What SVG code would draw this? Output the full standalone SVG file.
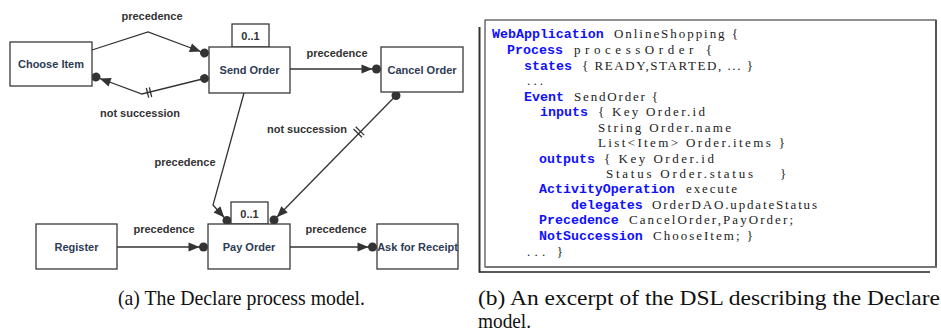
<svg xmlns="http://www.w3.org/2000/svg" width="941" height="336" viewBox="0 0 941 336">
  <style>
    .box { fill: #ffffff; stroke: #3a3a3a; stroke-width: 1.3; }
    .lbl { font-family: "Liberation Sans", Arial, sans-serif; font-weight: bold; font-size: 11px; fill: #2d3b55; text-anchor: middle; }
    .card { font-family: "Liberation Sans", Arial, sans-serif; font-weight: bold; font-size: 11px; fill: #333333; text-anchor: middle; }
    .elbl { font-family: "Liberation Sans", Arial, sans-serif; font-weight: bold; font-size: 11px; fill: #333333; text-anchor: middle; }
    .edge { fill: none; stroke: #333333; stroke-width: 1.3; }
    .bar { stroke: #333333; stroke-width: 1.3; }
    .kw { font-family: "Liberation Mono", "Courier New", monospace; font-weight: bold; font-size: 13.3px; fill: #1010ff; }
    .tx { font-family: "Liberation Serif", "Times New Roman", serif; font-size: 13px; fill: #222222; }
    .cap { font-family: "Liberation Serif", "Times New Roman", serif; font-size: 21px; fill: #111111; }
  </style>
  <defs>
    <!-- target end: arrowhead touching a dot -->
    <marker id="arrowDot" markerUnits="userSpaceOnUse" refX="0" refY="0" markerWidth="30" markerHeight="30" orient="auto" overflow="visible">
      <path d="M-15,-4.5 L-4,0 L-15,4.5 Z" fill="#333333"/>
      <circle cx="0" cy="0" r="4.5" fill="#333333"/>
    </marker>
    <!-- source-side dot -->
    <marker id="dot" markerUnits="userSpaceOnUse" refX="0" refY="0" markerWidth="12" markerHeight="12" orient="auto" overflow="visible">
      <circle cx="0" cy="0" r="4.5" fill="#333333"/>
    </marker>
  </defs>

  <!-- connectors -->
  <g id="connectors">
    <path class="edge" d="M92,50 L148,32 L204.5,53" marker-end="url(#arrowDot)"/>
    <text class="elbl" x="152" y="20">precedence</text>

    <path class="edge" d="M204.5,78.5 L142,94 L96,77" marker-start="url(#dot)" marker-end="url(#arrowDot)"/>
    <line class="bar" x1="146.3" y1="88" x2="148.7" y2="97.7"/>
    <line class="bar" x1="149.3" y1="87.3" x2="151.7" y2="97"/>
    <text class="elbl" x="140" y="117">not succession</text>

    <path class="edge" d="M290,69 L376.5,69" marker-end="url(#arrowDot)"/>
    <text class="elbl" x="337" y="57">precedence</text>

    <path class="edge" d="M396,95.5 L274,220" marker-start="url(#dot)" marker-end="url(#arrowDot)"/>
    <line class="bar" x1="353.5" y1="129" x2="362" y2="137.3"/>
    <line class="bar" x1="355.7" y1="126.8" x2="364.2" y2="135.1"/>
    <text class="elbl" x="307" y="133">not succession</text>

    <path class="edge" d="M244,93 L213,205 L227,220.5" marker-end="url(#arrowDot)"/>
    <text class="elbl" x="185" y="166">precedence</text>

    <path class="edge" d="M117,247 L203.5,247" marker-end="url(#arrowDot)"/>
    <text class="elbl" x="164" y="233">precedence</text>

    <path class="edge" d="M290,247 L372.5,247" marker-end="url(#arrowDot)"/>
    <text class="elbl" x="336" y="233">precedence</text>
  </g>

  <!-- activities -->
  <g id="choose-item">
    <rect class="box" x="10" y="42" width="82" height="44"/>
    <text class="lbl" x="51" y="68">Choose Item</text>
  </g>
  <g id="send-order">
    <rect class="box" x="232" y="24" width="37" height="23"/>
    <text class="card" x="250.5" y="40">0..1</text>
    <rect class="box" x="209" y="47" width="81" height="46"/>
    <text class="lbl" x="249.5" y="74">Send Order</text>
  </g>
  <g id="cancel-order">
    <rect class="box" x="381" y="47" width="82" height="45"/>
    <text class="lbl" x="422" y="74">Cancel Order</text>
  </g>
  <g id="register">
    <rect class="box" x="36" y="224" width="81" height="45"/>
    <text class="lbl" x="76.5" y="251">Register</text>
  </g>
  <g id="pay-order">
    <rect class="box" x="231" y="202" width="37" height="22"/>
    <text class="card" x="249.5" y="217.5">0..1</text>
    <rect class="box" x="208" y="224" width="82" height="45"/>
    <text class="lbl" x="249" y="251">Pay Order</text>
  </g>
  <g id="ask-for-receipt">
    <rect class="box" x="377" y="224" width="81" height="45"/>
    <text class="lbl" x="417.5" y="251">Ask for Receipt</text>
  </g>

  <!-- DSL listing panel -->
  <g id="dsl-listing">
    <line x1="479.5" y1="27" x2="479.5" y2="272.5" stroke="#333333" stroke-width="2"/>
    <line x1="479" y1="272" x2="930" y2="272" stroke="#222222" stroke-width="1.5"/>
    <rect x="485" y="20" width="451" height="247" fill="#ffffff" stroke="#222222" stroke-width="1"/>
    <line x1="936" y1="20" x2="936" y2="267.5" stroke="#555555" stroke-width="2"/>
    <line x1="485" y1="267" x2="937" y2="267" stroke="#777777" stroke-width="2"/>

    <text class="kw" x="492" y="38">WebApplication</text>
    <text class="tx" x="614" y="38" textLength="124" lengthAdjust="spacing">OnlineShopping {</text>

    <text class="kw" x="507" y="54">Process</text>
    <text class="tx" x="574" y="54" textLength="138" lengthAdjust="spacing">processOrder {</text>

    <text class="kw" x="524" y="70">states</text>
    <text class="tx" x="582" y="70" textLength="171" lengthAdjust="spacing">{ READY,STARTED,  ...  }</text>

    <text class="tx" x="527" y="85" textLength="16" lengthAdjust="spacing">...</text>

    <text class="kw" x="524" y="101">Event</text>
    <text class="tx" x="574" y="101" textLength="84" lengthAdjust="spacing">SendOrder {</text>

    <text class="kw" x="540" y="116">inputs</text>
    <text class="tx" x="598" y="116" textLength="107" lengthAdjust="spacing">{ Key Order.id</text>

    <text class="tx" x="598" y="132" textLength="133" lengthAdjust="spacing">String Order.name</text>

    <text class="tx" x="598" y="147" textLength="187" lengthAdjust="spacing">List&lt;Item&gt; Order.items }</text>

    <text class="kw" x="539" y="163">outputs</text>
    <text class="tx" x="604" y="163" textLength="110" lengthAdjust="spacing">{ Key Order.id</text>

    <text class="tx" x="606" y="178" textLength="147" lengthAdjust="spacing">Status Order.status</text>
    <text class="tx" x="780" y="178">}</text>

    <text class="kw" x="539" y="193">ActivityOperation</text>
    <text class="tx" x="686" y="193" textLength="51" lengthAdjust="spacing">execute</text>

    <text class="kw" x="571" y="209">delegates</text>
    <text class="tx" x="652" y="209" textLength="165" lengthAdjust="spacing">OrderDAO.updateStatus</text>

    <text class="kw" x="539" y="224">Precedence</text>
    <text class="tx" x="629" y="224" textLength="164" lengthAdjust="spacing">CancelOrder,PayOrder;</text>

    <text class="kw" x="539" y="240">NotSuccession</text>
    <text class="tx" x="653" y="240" textLength="100" lengthAdjust="spacing">ChooseItem; }</text>

    <text class="tx" x="527" y="256" textLength="36" lengthAdjust="spacing">...  }</text>
  </g>

  <!-- captions -->
  <g id="captions">
    <text class="cap" x="118" y="305" textLength="247" lengthAdjust="spacingAndGlyphs">(a) The Declare process model.</text>
    <text class="cap" x="478" y="305" textLength="462" lengthAdjust="spacingAndGlyphs">(b) An excerpt of the DSL describing the Declare</text>
    <text class="cap" x="478" y="328" textLength="53" lengthAdjust="spacingAndGlyphs">model.</text>
  </g>
</svg>
